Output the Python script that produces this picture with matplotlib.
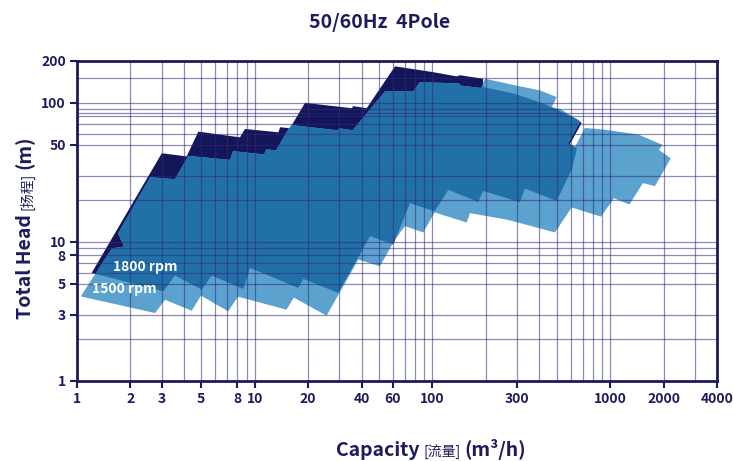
import numpy as np
import matplotlib.pyplot as plt
from matplotlib.patches import Polygon

plt.rcParams['font.family'] = ['Noto Sans CJK SC', 'DejaVu Sans']
plt.rcParams['font.weight'] = 'bold'

# 1800 rpm range outline (capacity m3/h, total head m)
q_1800 = [1.21, 3.00, 4.14, 4.82, 8.27, 8.82, 13.6, 13.9, 15.8, 19.2, 35.2, 35.9, 42.7,
          61.6, 99.1, 137, 143, 193, 193, 292, 430, 660, 692, 595, 651, 610, 501, 332,
          311, 193, 181, 123, 103, 74.8, 60.3, 44.6, 29.5, 18.8, 17.6, 9.41, 8.63,
          5.73, 5.03, 3.56, 3.06]
h_1800 = [5.99, 43.4, 41.2, 62.1, 56.5, 64.9, 61.4, 66.8, 65.7, 100, 91.5, 94.7, 91.5,
          183, 167, 155, 158, 149, 130, 116, 98, 75.4, 71.7, 50.6, 47.3, 33.4, 19.7, 24.2,
          19.3, 23.3, 19.4, 23.7, 16.6, 19.0, 9.6, 11.0, 4.30, 5.42, 4.67, 6.51, 4.59,
          5.73, 4.54, 5.73, 4.41]

# 1500 rpm range outline
q_1500 = [1.05, 1.25, 1.57, 1.84, 1.70, 2.58, 3.56, 4.23, 7.26, 7.55, 11.3, 11.6, 13.2,
          16.0, 29.3, 29.9, 35.6, 54.1, 78.1, 85.1, 141, 145, 188, 198, 298, 403, 501,
          469, 523, 649, 677, 580, 635, 722, 940, 1452, 1970, 1885, 2196, 1789, 1531,
          1286, 1052, 889, 608, 490, 267, 163, 156, 103, 88.9, 70.1, 61.6, 50.7, 38.3,
          25.4, 16.6, 15.1, 8.05, 7.10, 4.99, 4.42, 3.13, 2.75]
h_1500 = [4.06, 5.73, 8.98, 9.28, 11.5, 29.2, 28.3, 41.6, 38.9, 45.0, 42.6, 46.3, 45.6,
          69.4, 63.5, 65.7, 63.5, 121, 121, 141, 138, 133, 128, 149, 133, 123, 110,
          93.1, 90.5, 76.6, 72.9, 50.6, 48.1, 66.0, 64.1, 59.0, 49.9, 45.9, 39.9, 25.2, 26.5,
          18.6, 20.6, 15.2, 17.7, 11.7, 14.4, 16.1, 13.8, 16.3, 11.7, 13.0, 10.4, 6.69, 7.47,
          2.95, 3.98, 3.26, 4.04, 3.17, 4.11, 3.20, 3.84, 3.08]

x_ticks = [1, 2, 3, 5, 8, 10, 20, 40, 60, 100, 300, 1000, 2000, 4000]
y_ticks = [1, 3, 5, 8, 10, 50, 100, 200]
y_grid = [2, 3, 5, 6, 7, 8, 9, 10, 20, 30, 50, 60, 70, 80, 85, 90, 100, 150]
x_grid = [k * 10 ** d for d in range(4) for k in range(1, 10) if k * 10 ** d < 4000]

navy = '#1b1b5e'
dark = '#15155a'
mid = '#2270a8'
light = '#5ba2cf'

fig = plt.figure(figsize=(7.33, 4.61), dpi=100)
ax = fig.add_axes([77 / 733, 1 - 381 / 461, 640 / 733, 320 / 461])
ax.set_xscale('log')
ax.set_yscale('log')
ax.set_xlim(1, 4000)
ax.set_ylim(1, 200)

p18 = Polygon(np.column_stack([q_1800, h_1800]), closed=True, fc=dark, ec='none', zorder=1)
ax.add_patch(p18)
p15 = Polygon(np.column_stack([q_1500, h_1500]), closed=True, fc=light, ec='none', zorder=1.1)
ax.add_patch(p15)
both = Polygon(np.column_stack([q_1500, h_1500]), closed=True, fc=mid, ec='none', zorder=1.2)
ax.add_patch(both)
both.set_clip_path(p18)

ax.set_xticks(x_ticks, [str(v) for v in x_ticks])
ax.set_yticks(y_ticks, [str(v) for v in y_ticks])
ax.set_xticks(x_grid, minor=True)
ax.set_yticks(y_grid, minor=True)
ax.tick_params(which='minor', length=0, labelbottom=False, labelleft=False)
ax.tick_params(which='major', length=5, width=1.5, color=navy, labelsize=10,
               labelcolor=navy, pad=3)
ax.grid(True, which='both', color='#2c2c7a', lw=0.9, alpha=0.55)
ax.set_axisbelow(False)
for s in ax.spines.values():
    s.set_color(navy)
    s.set_linewidth(2)
    s.set_zorder(5)

ax.text(1.6, 6.6, '1800 rpm', color='white', fontsize=10, fontweight='bold',
        va='center', ha='left', zorder=4)
ax.text(1.22, 4.62, '1500 rpm', color='white', fontsize=10, fontweight='bold',
        va='center', ha='left', zorder=4)

fig.text(380 / 733, 1 - 22 / 461, '50/60Hz  4Pole', ha='center', va='center',
         fontsize=14, fontweight='bold', color=navy)


def put_parts(parts, center, base, vertical=False):
    r = fig.canvas.get_renderer()
    arts = []
    for s, size, weight in parts:
        t = fig.text(0, 0, s, fontsize=size, fontweight=weight, color=navy,
                     rotation=90 if vertical else 0, rotation_mode='anchor',
                     ha='left', va='baseline')
        arts.append(t)
    gap = 4
    lens = []
    for t in arts:
        bb = t.get_window_extent(r)
        lens.append(bb.height if vertical else bb.width)
    total = sum(lens) + gap * (len(arts) - 1)
    pos = center - total / 2
    for t, n in zip(arts, lens):
        if vertical:
            t.set_position((base / 733, pos / 461))
        else:
            t.set_position((pos / 733, base / 461))
        pos += n + gap


put_parts([('Capacity', 14, 'bold'), ('[流量]', 10, 'normal'), ('(m³/h)', 14, 'bold')],
          431, 461 - 456)
put_parts([('Total Head', 14, 'bold'), ('[扬程]', 10, 'normal'), ('(m)', 14, 'bold')],
          461 - 227, 31, vertical=True)

fig.savefig('out.png', dpi=100)
